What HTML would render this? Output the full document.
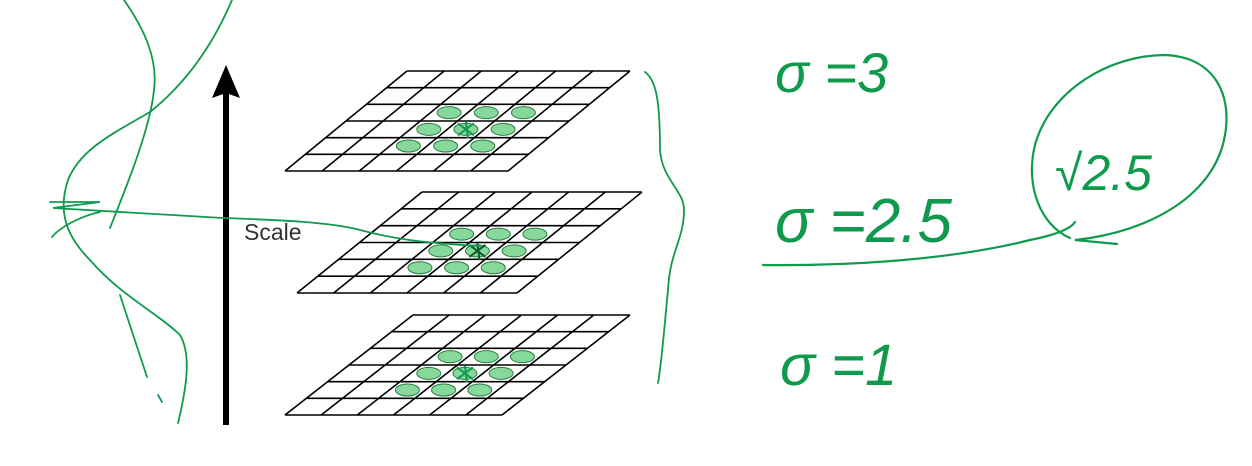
<!DOCTYPE html>
<html><head><meta charset="utf-8">
<style>
html,body{margin:0;padding:0;background:#fff;}
svg{display:block;}
</style></head>
<body>
<svg id="fig" width="1252" height="466" viewBox="0 0 1252 466" xmlns="http://www.w3.org/2000/svg">
  <rect width="1252" height="466" fill="#fff"/>
  <g id="grids"></g>
  <g>
    <rect x="223" y="92" width="6" height="333" fill="#000"/>
    <path d="M226 65 L240 98 L226 93 L212 98 Z" fill="#000"/>
  </g>
  <text x="244" y="240" font-family="'Liberation Sans',sans-serif" font-size="23" fill="#333">Scale</text>

  <g fill="none" stroke="#109a4e" stroke-width="1.8" stroke-linecap="round">
    <path d="M124 0 C145 30 158 60 154 90 C150 130 125 190 110 228"/>
    <path d="M232 0 C215 40 190 80 150 112 C110 135 80 150 68 180 C58 210 65 235 90 260 C120 295 160 315 180 335 C192 355 186 390 178 423"/>
    <path d="M120 295 C130 325 140 355 147 377"/>
    <path d="M158 395 L162 402"/>
    <path d="M50 202 L100 202 L53 208 C120 212 180 216 223 218 C280 220 330 222 360 230 C390 238 420 243 480 246"/>
    <path d="M52 237 C62 225 85 215 100 212"/>
    <path d="M645 72 C656 80 660 100 660 150 C662 180 684 190 684 210 C684 240 670 250 668 290 C664 330 662 360 658 383"/>
  </g>

  <g>
    <text x="775" y="92" font-family="'Liberation Sans',sans-serif" font-size="56" fill="#109a4e" font-style="italic">σ =3</text>
    <text x="775" y="242" font-family="'Liberation Sans',sans-serif" font-size="62" fill="#109a4e" font-style="italic">σ =2.5</text>
    <text x="1055" y="190" font-family="'Liberation Sans',sans-serif" font-size="50" fill="#109a4e" font-style="italic">√2.5</text>
    <text x="780" y="385" font-family="'Liberation Sans',sans-serif" font-size="58" fill="#109a4e" font-style="italic">σ =1</text>
    <g fill="none" stroke="#109a4e" stroke-width="2.2" stroke-linecap="round">
      <path d="M1070 238 C1040 225 1025 185 1035 145 C1050 90 1110 55 1165 55 C1215 57 1232 95 1225 135 C1215 195 1150 232 1075 240 L1117 244"/>
      <path d="M763 265 C850 266 950 260 1030 240 C1050 236 1070 230 1075 222"/>
    </g>
  </g>
</svg>
<script>
// layer data
const layerNames = ['top-layer','middle-layer','bottom-layer'];
const layerTL = [[407,71],[422,192],[413,315]];
const layerTR = [[630,71],[642,192],[630,315]];
const layerBL = [[285,171],[297,293],[285,415]];
const rows = 6, cols = 6;
const blobRows = [2,3,4];
const blobCols = [2,3,4];
const NS='http://www.w3.org/2000/svg';
const g=document.getElementById('grids');
function pt(L,u,v){
  const tl=layerTL[L],tr=layerTR[L],bl=layerBL[L];
  return [tl[0]+(tr[0]-tl[0])*u+(bl[0]-tl[0])*v, tl[1]+(tr[1]-tl[1])*u+(bl[1]-tl[1])*v];
}
for(let L=0;L<layerNames.length;L++){
  const lg=document.createElementNS(NS,'g');
  
  
  g.appendChild(lg);
  for(let r=0;r<=rows;r++){
    const a=pt(L,0,r/rows),b=pt(L,1,r/rows);
    const ln=document.createElementNS(NS,'line');
    ln.setAttribute('x1',a[0]);ln.setAttribute('y1',a[1]);ln.setAttribute('x2',b[0]);ln.setAttribute('y2',b[1]);
    ln.setAttribute('stroke','#000');ln.setAttribute('stroke-width','1.6');
    
    
    lg.appendChild(ln);
  }
  for(let c=0;c<=cols;c++){
    const a=pt(L,c/cols,0),b=pt(L,c/cols,1);
    const ln=document.createElementNS(NS,'line');
    ln.setAttribute('x1',a[0]);ln.setAttribute('y1',a[1]);ln.setAttribute('x2',b[0]);ln.setAttribute('y2',b[1]);
    ln.setAttribute('stroke','#000');ln.setAttribute('stroke-width','1.6');
    
    
    lg.appendChild(ln);
  }
  for(const r of blobRows){for(const c of blobCols){
    const p=pt(L,(c+0.5)/cols,(r+0.5)/rows);
    const e=document.createElementNS(NS,'ellipse');
    e.setAttribute('cx',p[0]);e.setAttribute('cy',p[1]);e.setAttribute('rx',12);e.setAttribute('ry',6);
    e.setAttribute('fill','#86d99a');e.setAttribute('stroke','#2e7d45');e.setAttribute('stroke-width','1');
    
    
    lg.appendChild(e);
  }}
  const cp=pt(L,3.5/cols,3.5/rows);
  const m=document.createElementNS(NS,'path');
  m.setAttribute('d',`M${cp[0]-8} ${cp[1]-6} L${cp[0]+8} ${cp[1]+6} M${cp[0]-8} ${cp[1]+6} L${cp[0]+8} ${cp[1]-6} M${cp[0]} ${cp[1]-8} L${cp[0]+2} ${cp[1]+9}`);
  m.setAttribute('stroke',L===1?'#0a5a2a':'#109a4e');m.setAttribute('stroke-width','2');m.setAttribute('fill','none');
  
  
  lg.appendChild(m);
}
</script>
</body></html>
